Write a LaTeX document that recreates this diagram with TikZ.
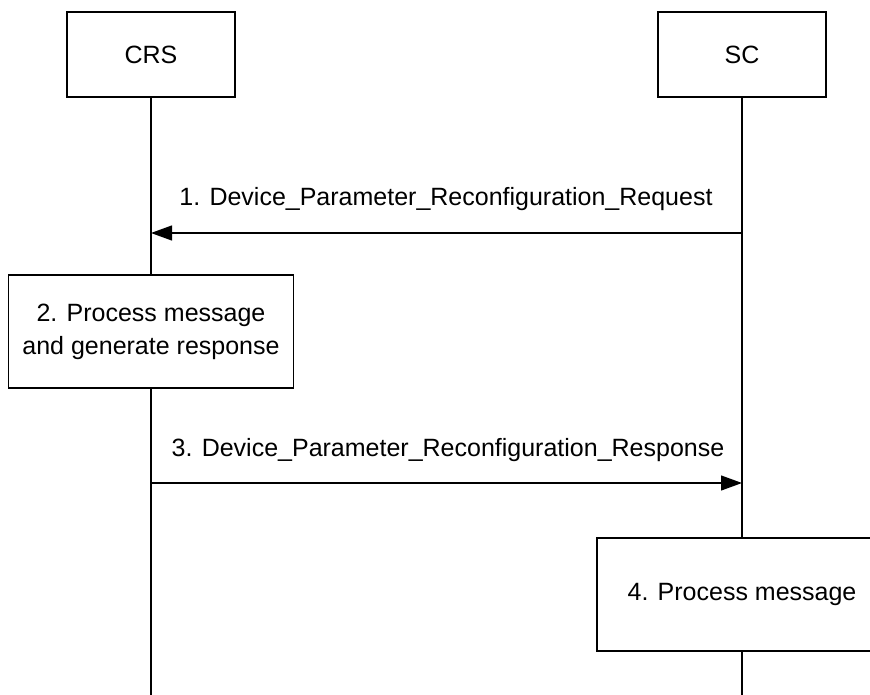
\documentclass[tikz,border=0pt]{standalone}
\usepackage{fontspec}
\setmainfont{Liberation Sans}
\usetikzlibrary{arrows.meta}
\tikzset{
  entity/.style={draw, line width=1.2pt, minimum width=168pt, minimum height=85pt,
                 inner sep=0, font=\fontsize{25}{30}\selectfont}
}

\begin{document}
\begin{tikzpicture}[x=1pt, y=-1pt,
  % vertical lifeline
  life/.style     = {line width=1.2pt},
  % message arrow between lifelines
  msg/.style      = {line width=1.2pt, -{Triangle[length=21pt,width=15pt]}},
  % message text above the arrow
  msglabel/.style = {anchor=base, inner sep=0, font=\fontsize{25}{30}\selectfont},
  % processing step on a lifeline
  procbox/.style  = {draw, fill=white, line width=1.2pt, minimum width=285pt,
                     minimum height=113pt, align=center, inner sep=0,
                     font=\fontsize{25}{33}\selectfont},
]
\useasboundingbox (0,0) rectangle (870,695);

% ------------------------------
%  Entities
% ------------------------------
\node[entity] (crs) at (151,54.5) {CRS};
\node[entity] (sc)  at (742,54.5) {SC};

% ------------------------------
%  Processing steps
% ------------------------------
\node[procbox] (proc2) at (151,331.5) {2. Process message\\and generate response};
\node[procbox, minimum width=290pt] (proc4) at (742,594.5) {4. Process message};

% lifeline ends
\coordinate (crsend) at (151,695);
\coordinate (scend)  at (742,695);

% lifelines
\draw[life] (crs.south)   -- (proc2.north);
\draw[life] (proc2.south) -- (crsend);
\draw[life] (sc.south)    -- (proc4.north);
\draw[life] (proc4.south) -- (scend);

% ------------------------------
%  Messages
% ------------------------------
\coordinate (reqsc)  at (742,233);
\coordinate (reqcrs) at (151,233);
\node[msglabel] (reqlbl) at (446,206)
  {1. Device\_Parameter\_Reconfiguration\_Request};
\draw[msg] (reqsc) -- (reqcrs);

\coordinate (respcrs) at (151,483);
\coordinate (respsc)  at (742,483);
\node[msglabel] (resplbl) at (448,456)
  {3. Device\_Parameter\_Reconfiguration\_Response};
\draw[msg] (respcrs) -- (respsc);

\end{tikzpicture}
\end{document}
